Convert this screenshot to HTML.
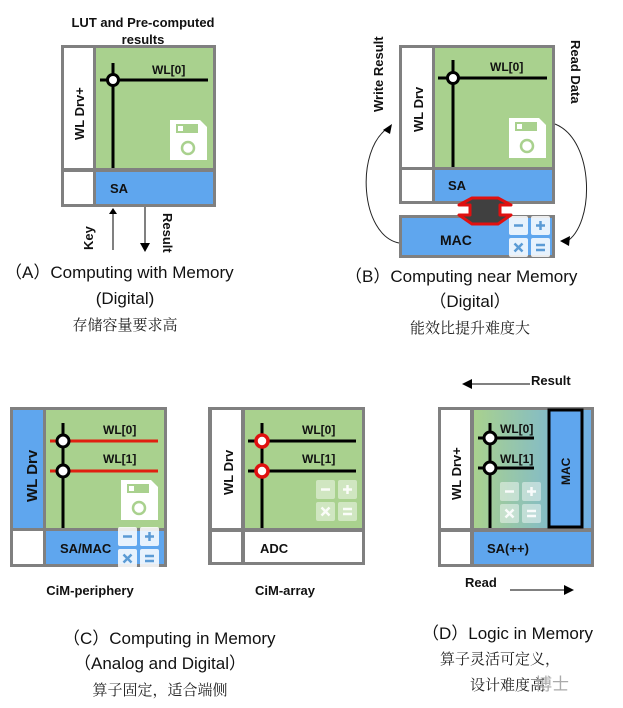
<!DOCTYPE html>
<html><head><meta charset="utf-8"><style>
html,body{margin:0;padding:0;background:#fff;width:623px;height:708px;overflow:hidden}
svg{display:block}
.b{font-family:"Liberation Sans",Arial,sans-serif;font-weight:bold;fill:#111}
.c{font-family:"Liberation Sans","Noto Sans CJK SC",sans-serif;font-size:17px;fill:#111}
.z{font-family:"Noto Serif CJK SC","Liberation Serif",serif;font-size:15px;fill:#222}
</style></head><body>
<svg width="623" height="708" viewBox="0 0 623 708" xmlns="http://www.w3.org/2000/svg">
<defs>
<linearGradient id="gd" x1="0" x2="1" y1="0" y2="0"><stop offset="0" stop-color="#a9d18e"/><stop offset="1" stop-color="#6fb0e6"/></linearGradient>
<g id="floppy">
<path d="M0,0 H30 L37,7 V40 H0 Z" fill="#fff"/>
<rect x="6" y="4" width="22" height="9" fill="#a9d18e"/>
<rect x="8" y="6" width="5" height="5" fill="#fff"/>
<circle cx="18" cy="28" r="6" fill="none" stroke="#a9d18e" stroke-width="2.5"/>
</g>
<g id="calc">
<rect x="0" y="0" width="19" height="19" rx="2" fill="#fff" opacity="0.85"/>
<rect x="22" y="0" width="19" height="19" rx="2" fill="#fff" opacity="0.85"/>
<rect x="0" y="22" width="19" height="19" rx="2" fill="#fff" opacity="0.85"/>
<rect x="22" y="22" width="19" height="19" rx="2" fill="#fff" opacity="0.85"/>
<g stroke="#5b9bd5" stroke-width="2.5">
<line x1="5" y1="9.5" x2="14" y2="9.5"/>
<line x1="27" y1="9.5" x2="36" y2="9.5"/><line x1="31.5" y1="5" x2="31.5" y2="14"/>
<line x1="5.5" y1="27.5" x2="13.5" y2="35.5"/><line x1="13.5" y1="27.5" x2="5.5" y2="35.5"/>
<line x1="27" y1="29" x2="36" y2="29"/><line x1="27" y1="34" x2="36" y2="34"/>
</g>
</g>
<g id="calcf">
<rect x="0" y="0" width="19" height="19" rx="2" fill="#fff" opacity="0.45"/>
<rect x="22" y="0" width="19" height="19" rx="2" fill="#fff" opacity="0.45"/>
<rect x="0" y="22" width="19" height="19" rx="2" fill="#fff" opacity="0.45"/>
<rect x="22" y="22" width="19" height="19" rx="2" fill="#fff" opacity="0.45"/>
<g stroke="#fff" stroke-width="2.5" opacity="0.9">
<line x1="5" y1="9.5" x2="14" y2="9.5"/>
<line x1="27" y1="9.5" x2="36" y2="9.5"/><line x1="31.5" y1="5" x2="31.5" y2="14"/>
<line x1="5.5" y1="27.5" x2="13.5" y2="35.5"/><line x1="13.5" y1="27.5" x2="5.5" y2="35.5"/>
<line x1="27" y1="29" x2="36" y2="29"/><line x1="27" y1="34" x2="36" y2="34"/>
</g>
</g>
</defs>

<!-- Panel A -->
<text class="b" x="143" y="27" font-size="13" text-anchor="middle">LUT and Pre-computed</text>
<text class="b" x="143" y="44" font-size="13" text-anchor="middle">results</text>
<rect x="61" y="45" width="155" height="162" fill="#808080"/>
<rect x="64" y="48" width="29" height="120" fill="#fff"/>
<rect x="96" y="48" width="117" height="120" fill="#a9d18e"/>
<rect x="64" y="172" width="29" height="32" fill="#fff"/>
<rect x="96" y="172" width="117" height="32" fill="#5fa6ee"/>
<text class="b" x="0" y="0" font-size="13" transform="translate(84,140) rotate(-90)">WL Drv+</text>
<line x1="113" y1="63" x2="113" y2="168" stroke="#000" stroke-width="3"/>
<line x1="100" y1="80" x2="208" y2="80" stroke="#000" stroke-width="3"/>
<circle cx="113" cy="80" r="5.5" fill="#fff" stroke="#000" stroke-width="3"/>
<text class="b" x="152" y="74" font-size="12">WL[0]</text>
<use href="#floppy" x="170" y="120"/>
<text class="b" x="110" y="193" font-size="13" fill="#1a2a55">SA</text>
<line x1="113" y1="250" x2="113" y2="213" stroke="#000" stroke-width="1"/>
<path d="M109,214 L117,214 L113,208 Z" fill="#000"/>
<line x1="145" y1="207" x2="145" y2="244" stroke="#000" stroke-width="1"/>
<path d="M140,243 L150,243 L145,252 Z" fill="#000"/>
<text class="b" x="0" y="0" font-size="13" transform="translate(93,250) rotate(-90)">Key</text>
<text class="b" x="0" y="0" font-size="13" transform="translate(163,213) rotate(90)">Result</text>
<text class="c" x="5" y="278">（A）Computing with Memory</text>
<text class="c" x="125" y="304" text-anchor="middle">(Digital)</text>
<text class="z" x="125" y="330" text-anchor="middle">存储容量要求高</text>

<!-- Panel B -->
<rect x="399" y="45" width="156" height="159" fill="#808080"/>
<rect x="402" y="48" width="30" height="119" fill="#fff"/>
<rect x="435" y="48" width="117" height="119" fill="#a9d18e"/>
<rect x="402" y="170" width="30" height="31" fill="#fff"/>
<rect x="435" y="170" width="117" height="31" fill="#5fa6ee"/>
<text class="b" x="0" y="0" font-size="13" transform="translate(423,132) rotate(-90)">WL Drv</text>
<line x1="453" y1="60" x2="453" y2="167" stroke="#000" stroke-width="3"/>
<line x1="438" y1="78" x2="547" y2="78" stroke="#000" stroke-width="3"/>
<circle cx="453" cy="78" r="5.5" fill="#fff" stroke="#000" stroke-width="3"/>
<text class="b" x="490" y="71" font-size="12">WL[0]</text>
<use href="#floppy" x="509" y="118"/>
<text class="b" x="448" y="190" font-size="13" fill="#1a2a55">SA</text>
<rect x="399" y="215" width="156" height="43" fill="#808080"/>
<rect x="402" y="218" width="150" height="37" fill="#5fa6ee"/>
<use href="#calc" x="509" y="216"/>
<text class="b" x="440" y="245" font-size="14" fill="#1a2a55">MAC</text>
<path d="M472,198 L498,198 L511,205 L500,205 L500,215 L511,215 L498,224 L472,224 L459,215 L470,215 L470,205 L459,205 Z" fill="#404040" stroke="#e01010" stroke-width="3" stroke-linejoin="round"/>
<path d="M399,243 C360,235 355,150 388,128" fill="none" stroke="#222" stroke-width="1"/>
<path d="M383,130 L392,124 L390,134 Z" fill="#000"/>
<path d="M555,124 C595,140 595,225 566,242" fill="none" stroke="#222" stroke-width="1"/>
<path d="M560,241 L570,236 L569,246 Z" fill="#000"/>
<text class="b" x="0" y="0" font-size="13" transform="translate(383,112) rotate(-90)">Write Result</text>
<text class="b" x="0" y="0" font-size="13" transform="translate(571,40) rotate(90)">Read Data</text>
<text class="c" x="345" y="282">（B）Computing near Memory</text>
<text class="c" x="470" y="307" text-anchor="middle">（Digital）</text>
<text class="z" x="470" y="333" text-anchor="middle">能效比提升难度大</text>

<!-- Panel C left -->
<rect x="10" y="407" width="157" height="160" fill="#808080"/>
<rect x="13" y="410" width="30" height="118" fill="#5fa6ee"/>
<rect x="46" y="410" width="118" height="118" fill="#a9d18e"/>
<rect x="13" y="531" width="30" height="33" fill="#fff"/>
<rect x="46" y="531" width="118" height="33" fill="#5fa6ee"/>
<text class="b" x="0" y="0" font-size="15" transform="translate(37,502) rotate(-90)">WL Drv</text>
<line x1="50" y1="441" x2="158" y2="441" stroke="#e02010" stroke-width="3"/>
<line x1="50" y1="471" x2="158" y2="471" stroke="#e02010" stroke-width="3"/>
<line x1="63" y1="423" x2="63" y2="528" stroke="#000" stroke-width="3"/>
<circle cx="63" cy="441" r="6" fill="#fff" stroke="#000" stroke-width="3"/>
<circle cx="63" cy="471" r="6" fill="#fff" stroke="#000" stroke-width="3"/>
<text class="b" x="103" y="434" font-size="12">WL[0]</text>
<text class="b" x="103" y="463" font-size="12">WL[1]</text>
<use href="#floppy" x="121" y="480"/>
<use href="#calc" x="118" y="527"/>
<text class="b" x="60" y="553" font-size="13" fill="#1a2a55">SA/MAC</text>
<text class="b" x="90" y="595" font-size="13" text-anchor="middle">CiM-periphery</text>

<!-- Panel C right -->
<rect x="208" y="407" width="157" height="158" fill="#808080"/>
<rect x="212" y="410" width="29" height="118" fill="#fff"/>
<rect x="245" y="410" width="117" height="118" fill="#a9d18e"/>
<rect x="212" y="532" width="29" height="30" fill="#fff"/>
<rect x="245" y="532" width="117" height="30" fill="#fff"/>
<text class="b" x="0" y="0" font-size="13" transform="translate(233,495) rotate(-90)">WL Drv</text>
<line x1="248" y1="441" x2="356" y2="441" stroke="#000" stroke-width="3"/>
<line x1="248" y1="471" x2="356" y2="471" stroke="#000" stroke-width="3"/>
<line x1="262" y1="423" x2="262" y2="528" stroke="#000" stroke-width="3"/>
<circle cx="262" cy="441" r="6" fill="#fff" stroke="#e01010" stroke-width="3.5"/>
<circle cx="262" cy="471" r="6" fill="#fff" stroke="#e01010" stroke-width="3.5"/>
<text class="b" x="302" y="434" font-size="12">WL[0]</text>
<text class="b" x="302" y="463" font-size="12">WL[1]</text>
<use href="#calcf" x="316" y="480"/>
<text class="b" x="260" y="553" font-size="13">ADC</text>
<text class="b" x="285" y="595" font-size="13" text-anchor="middle">CiM-array</text>

<!-- Panel D -->
<line x1="530" y1="384" x2="470" y2="384" stroke="#000" stroke-width="1"/>
<path d="M462,384 L472,379 L472,389 Z" fill="#000"/>
<text class="b" x="531" y="385" font-size="13">Result</text>
<rect x="438" y="407" width="156" height="160" fill="#808080"/>
<rect x="441" y="410" width="29" height="118" fill="#fff"/>
<rect x="474" y="410" width="117" height="118" fill="url(#gd)"/>
<rect x="441" y="532" width="29" height="32" fill="#fff"/>
<rect x="474" y="532" width="117" height="32" fill="#5fa6ee"/>
<rect x="549" y="410" width="33" height="117" fill="#5fa6ee" stroke="#000" stroke-width="3"/>
<text class="b" x="0" y="0" font-size="12" transform="translate(570,485) rotate(-90)">MAC</text>
<text class="b" x="0" y="0" font-size="13" transform="translate(461,500) rotate(-90)">WL Drv+</text>
<line x1="478" y1="438" x2="534" y2="438" stroke="#000" stroke-width="3"/>
<line x1="478" y1="468" x2="534" y2="468" stroke="#000" stroke-width="3"/>
<line x1="490" y1="423" x2="490" y2="528" stroke="#000" stroke-width="3"/>
<circle cx="490" cy="438" r="6" fill="#fff" stroke="#000" stroke-width="3"/>
<circle cx="490" cy="468" r="6" fill="#fff" stroke="#000" stroke-width="3"/>
<text class="b" x="500" y="433" font-size="12">WL[0]</text>
<text class="b" x="500" y="463" font-size="12">WL[1]</text>
<use href="#calcf" x="500" y="482"/>
<text class="b" x="487" y="553" font-size="13" fill="#1a2a55">SA(++)</text>
<text class="b" x="465" y="587" font-size="13">Read</text>
<line x1="510" y1="590" x2="566" y2="590" stroke="#000" stroke-width="1"/>
<path d="M574,590 L564,585 L564,595 Z" fill="#000"/>

<text class="c" x="63" y="644">（C）Computing in Memory</text>
<text class="c" x="160" y="669" text-anchor="middle">（Analog and Digital）</text>
<text class="z" x="160" y="695" text-anchor="middle">算子固定，适合端侧</text>
<text class="c" x="422" y="639">（D）Logic in Memory</text>
<text class="z" x="440" y="664">算子灵活可定义，</text>
<text class="z" x="470" y="690">设计难度高</text>
<text class="c" x="535" y="690" font-size="15" fill="#999" style="fill:#aaa">博士</text>
</svg>
</body></html>
